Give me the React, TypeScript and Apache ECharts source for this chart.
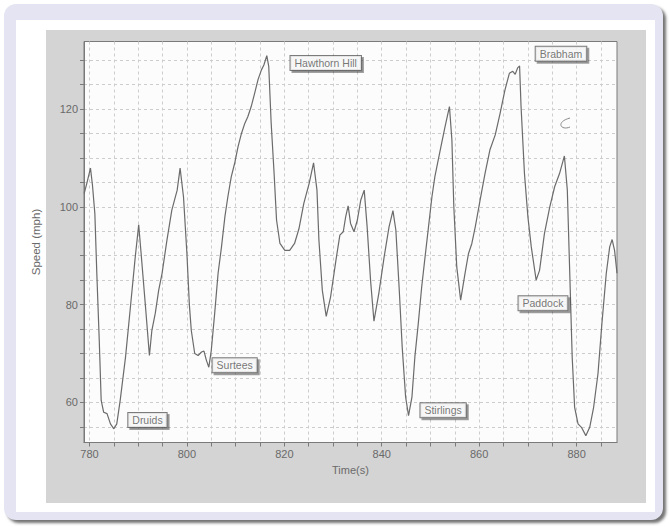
import React, { useEffect, useRef } from "react";
import * as echarts from "echarts";

// Lap trace: time (s) and speed (mph)
const times = [
  778.9, 779.5, 780.2, 780.6, 781.1, 781.5, 782.0, 782.4, 782.9, 783.6, 784.3, 785.0, 785.6, 786.3,
  787.4, 788.4, 789.4, 790.1, 790.6, 791.5, 792.3, 792.8, 793.5, 794.2, 794.9, 795.9, 796.9, 798.0,
  798.6, 799.3, 800.0, 800.5, 800.9, 801.6, 802.3, 803.0, 803.5, 804.0, 804.5, 805.0, 805.7, 806.4,
  807.1, 807.8, 808.4, 809.1, 809.8, 810.5, 811.2, 811.9, 812.5, 813.2, 813.9, 814.6, 815.3, 815.8,
  816.4, 816.8, 817.3, 817.9, 818.4, 819.1, 820.1, 821.1, 822.1, 823.0, 824.0, 825.1, 826.0, 826.7,
  827.1, 827.8, 828.6, 829.5, 830.6, 831.4, 832.1, 832.6, 833.1, 833.6, 834.3, 835.0, 835.7, 836.4,
  837.0, 837.7, 838.4, 839.4, 840.5, 841.5, 842.3, 842.9, 843.6, 844.2, 844.9, 845.5, 846.2, 846.8,
  847.5, 848.2, 848.9, 849.6, 850.3, 850.9, 851.6, 852.3, 853.0, 853.9, 854.4, 854.8, 855.4, 856.2,
  857.1, 857.8, 858.5, 859.2, 860.2, 861.2, 862.2, 863.3, 864.3, 865.3, 866.2, 866.9, 867.4, 867.9,
  868.3, 868.6, 869.3, 870.0, 870.7, 871.7, 872.4, 873.4, 874.5, 875.5, 876.5, 877.5, 878.1, 878.6,
  879.1, 879.6, 880.3, 881.0, 881.9, 882.7, 883.5, 884.4, 885.2, 886.1, 886.8, 887.3, 887.8, 888.3,
];
const speeds = [
  102.7, 105.0, 107.9, 104.5, 98.6, 86.4, 72.7, 60.4, 58.0, 57.7, 55.6, 54.6, 55.6, 60.4,
  69.3, 79.5, 89.8, 96.3, 90.4, 79.5, 69.6, 74.7, 78.2, 82.9, 86.4, 93.2, 99.3, 103.4,
  107.9, 102.0, 90.4, 80.0, 74.7, 70.0, 69.6, 70.3, 70.5, 68.6, 67.2, 70.6, 78.2, 86.4,
  91.8, 98.0, 102.0, 106.1, 108.9, 112.3, 115.0, 117.1, 118.4, 120.5, 123.2, 126.0, 128.0, 129.0,
  130.9, 128.7, 117.1, 106.8, 97.3, 92.5, 91.1, 91.1, 92.5, 95.5, 100.7, 104.8, 109.0, 103.4,
  93.2, 82.9, 77.6, 81.6, 89.1, 94.2, 94.9, 98.0, 100.2, 96.6, 94.9, 97.3, 101.4, 103.4,
  95.9, 85.0, 76.6, 82.3, 89.8, 95.9, 99.2, 95.2, 82.9, 71.3, 61.1, 57.3, 61.1, 69.3,
  76.1, 83.6, 89.8, 95.9, 102.0, 106.1, 109.6, 113.0, 116.4, 120.5, 113.7, 100.0, 87.7, 80.9,
  86.4, 90.4, 92.5, 95.9, 101.4, 106.8, 111.6, 114.7, 119.1, 123.9, 127.3, 127.7, 127.1, 128.4,
  128.8, 120.5, 106.8, 98.0, 91.8, 85.0, 87.0, 94.5, 100.0, 104.1, 106.8, 110.4, 103.4, 86.4,
  69.3, 59.0, 55.6, 54.9, 53.2, 54.9, 59.0, 65.9, 76.1, 86.4, 91.8, 93.3, 91.1, 86.4,
];

// Corner annotations (anchored in data coordinates)
const cornerNames = ["Hawthorn Hill", "Brabham", "Druids", "Surtees", "Stirlings", "Paddock"];
const cornerTimes = [828.5, 876.8, 791.9, 809.8, 852.6, 873.1];
const cornerSpeeds = [129.4, 131.3, 56.4, 67.6, 58.4, 80.3];

// Axis ticks and labels
const xTicks = [780, 785, 790, 795, 800, 805, 810, 815, 820, 825, 830, 835, 840, 845, 850, 855, 860, 865, 870, 875, 880, 885];
const xLabels = [780, 800, 820, 840, 860, 880];
const yTicks = [55, 60, 65, 70, 75, 80, 85, 90, 95, 100, 105, 110, 115, 120, 125, 130];
const yLabels = [60, 80, 100, 120];

const FONT = "'Liberation Sans Narrow', 'Liberation Sans', Arial, sans-serif";

export default function App() {
  const ref = useRef<HTMLDivElement>(null);

  useEffect(() => {
    if (!ref.current) return;
    const chart = echarts.init(ref.current, null, { renderer: "svg" });
    const lineData = times.map((t, i) => [t, speeds[i]]);
    const cornerData = cornerNames.map((n, i) => ({ name: n, value: [cornerTimes[i], cornerSpeeds[i]] }));

    chart.setOption({
      animation: false,
      backgroundColor: "transparent",
      grid: {
        left: 84,
        right: 52,
        top: 41.5,
        bottom: 84.5,
        show: true,
        backgroundColor: "#fcfcfc",
        borderColor: "#7a7a7a",
        borderWidth: 1,
      },
      xAxis: {
        type: "value",
        min: 778.87,
        max: 888.3,
        name: "Time(s)",
        nameLocation: "middle",
        nameGap: 18,
        nameTextStyle: { color: "#6a6a6a", fontSize: 11, fontFamily: FONT },
        axisLine: { show: true, onZero: false, lineStyle: { color: "#7a7a7a" } },
        axisTick: { show: true, customValues: xTicks, length: 4, lineStyle: { color: "#7a7a7a" } },
        axisLabel: { customValues: xLabels, color: "#6a6a6a", fontSize: 11, margin: 6, fontFamily: FONT },
        splitLine: { show: true, lineStyle: { color: "#cdcdcd", type: [3, 3], width: 1 } },
      },
      yAxis: {
        type: "value",
        min: 51.8,
        max: 133.8,
        name: "Speed (mph)",
        nameLocation: "middle",
        nameRotate: 90,
        nameGap: 42,
        nameTextStyle: { color: "#6a6a6a", fontSize: 11.5, fontFamily: FONT },
        axisLine: { show: true, onZero: false, lineStyle: { color: "#7a7a7a" } },
        axisTick: { show: true, customValues: yTicks, length: 4, lineStyle: { color: "#7a7a7a" } },
        axisLabel: { customValues: yLabels, color: "#6a6a6a", fontSize: 11, margin: 6, fontFamily: FONT },
        splitLine: { show: true, lineStyle: { color: "#cdcdcd", type: [3, 3], width: 1 } },
      },
      graphic: [
        {
          type: "bezierCurve",
          shape: { x1: 570, y1: 118, cpx1: 555, cpy1: 122, cpx2: 561, cpy2: 131, x2: 570, y2: 127 },
          style: { stroke: "#8a8a8a", lineWidth: 1, fill: null },
          z: 10,
        },
      ],
      series: [
        {
          type: "line",
          data: lineData,
          showSymbol: false,
          smooth: false,
          lineStyle: { color: "#6b6b6b", width: 1.2 },
          z: 2,
        },
        {
          type: "scatter",
          data: cornerData,
          symbolSize: 1,
          itemStyle: { color: "rgba(0,0,0,0)" },
          z: 5,
          label: {
            show: true,
            position: "inside",
            formatter: "{b}",
            color: "#555",
            fontSize: 10.5,
            fontFamily: FONT,
            backgroundColor: "#ffffff",
            borderColor: "#5a5a5a",
            borderWidth: 1,
            padding: [2, 4, 1, 4],
            shadowColor: "rgba(0,0,0,0.45)",
            shadowOffsetX: 2,
            shadowOffsetY: 2,
            shadowBlur: 1,
          },
        },
      ],
    });
    return () => chart.dispose();
  }, []);

  return (
    <div style={{ position: "fixed", left: 0, top: 0, width: 669, height: 527, background: "#ffffff", overflow: "hidden" }}>
      <div
        style={{
          position: "absolute",
          left: 4,
          top: 4,
          width: 659,
          height: 516,
          borderRadius: 12,
          background: "#e4e4f2",
          boxShadow: "3px 3px 3px rgba(0,0,0,0.55)",
        }}
      />
      <div style={{ position: "absolute", left: 16, top: 20, width: 639, height: 492, background: "#ffffff" }} />
      <div style={{ position: "absolute", left: 46, top: 30, width: 600, height: 473, background: "#d4d4d4" }} />
      <div ref={ref} style={{ position: "absolute", left: 0, top: 0, width: 669, height: 527 }} />
    </div>
  );
}
